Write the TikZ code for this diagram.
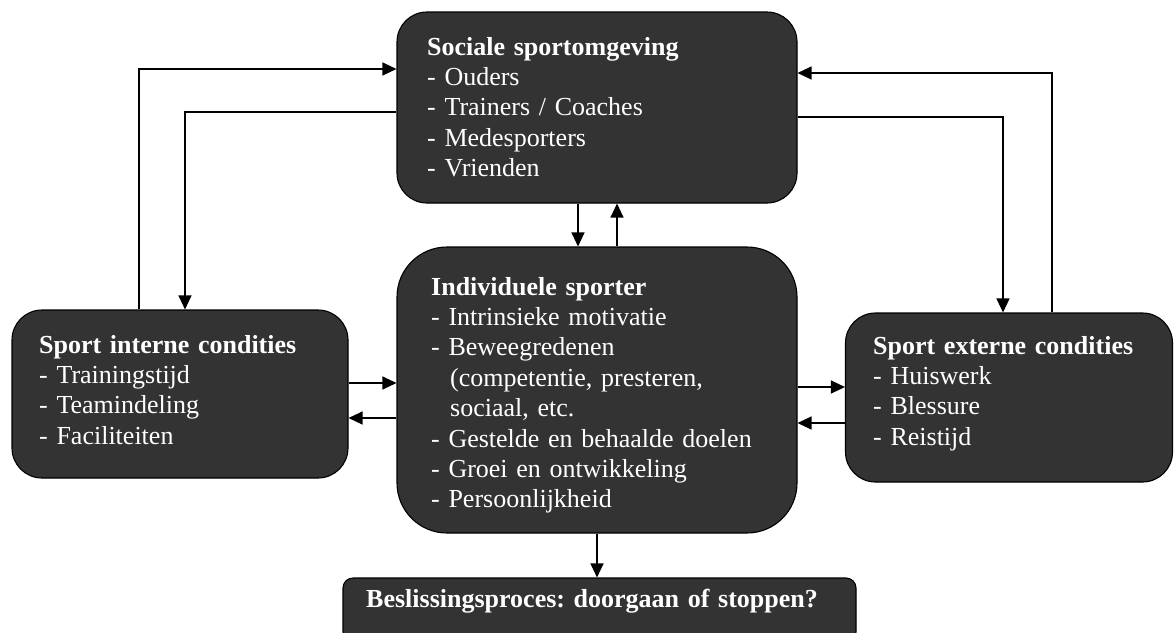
\documentclass[tikz,border=0pt]{standalone}
\usepackage{fontspec}
\setmainfont{Liberation Serif}
\usetikzlibrary{arrows.meta}
\definecolor{boxfill}{RGB}{51,51,51}
\frenchspacing
\tikzset{
  box/.style={draw=black, line width=1.1pt, fill=boxfill, inner sep=0pt},
  txt/.style={text=white, inner sep=0pt, anchor=base west, align=left,
    font=\fontsize{26}{30.4}\selectfont\frenchspacing},
  arr/.style={draw=black, line width=1.2pt, -{Triangle[length=14pt,width=13pt]}},
}
\begin{document}
\begin{tikzpicture}[x=1pt,y=-1pt]
\clip (0,0) rectangle (1174,632);
\fill[white] (0,0) rectangle (1174,632);
% boxes
\node[box, minimum width=400pt, minimum height=191pt, rounded corners=30pt] (soc) at (597,107.5) {};
\node[box, minimum width=400pt, minimum height=286pt, rounded corners=50pt] (ind) at (597,390) {};
\node[box, minimum width=336pt, minimum height=168pt, rounded corners=30pt] (int) at (180,394) {};
\node[box, minimum width=327pt, minimum height=169pt, rounded corners=30pt] (ext) at (1009,397.5) {};
\node[box, minimum width=513pt, minimum height=64pt, rounded corners=10pt] (bes) at (599.5,610) {};
% texts
\node[txt, text width=360pt] (soct) at (427,55) {\textbf{Sociale sportomgeving}\\- Ouders\\- Trainers / Coaches\\- Medesporters\\- Vrienden};
\node[txt, text width=360pt] (indt) at (431,295) {\textbf{Individuele sporter}\\- Intrinsieke motivatie\\- Beweegredenen\\\hspace*{19pt}(competentie, presteren,\\\hspace*{19pt}sociaal, etc.\\- Gestelde en behaalde doelen\\- Groei en ontwikkeling\\- Persoonlijkheid};
\node[txt, text width=300pt] (intt) at (39,353) {\textbf{Sport interne condities}\\- Trainingstijd\\- Teamindeling\\- Faciliteiten};
\node[txt, text width=295pt] (extt) at (873,354) {\textbf{Sport externe condities}\\- Huiswerk\\- Blessure\\- Reistijd};
\node[txt, text width=480pt] (best) at (366,607) {\textbf{Beslissingsproces: doorgaan of stoppen?}};
% helper coordinates
\coordinate (c1) at (139,69);
\coordinate (c2) at (185,112);
\coordinate (c3) at (1003,117);
\coordinate (c4) at (1052,73);
\coordinate (c5) at (578,0);
\coordinate (c6) at (617,0);
\coordinate (c7) at (0,383);
\coordinate (c8) at (0,418);
\coordinate (c9) at (0,387);
\coordinate (c10) at (0,423);
\coordinate (c11) at (597,0);
% connectors
\draw[arr] (int.north -| c1) |- (soc.west |- c1);
\draw[arr] (soc.west |- c2) -| (int.north -| c2);
\draw[arr] (soc.east |- c3) -| (ext.north -| c3);
\draw[arr] (ext.north -| c4) |- (soc.east |- c4);
\draw[arr] (soc.south -| c5) -- (ind.north -| c5);
\draw[arr] (ind.north -| c6) -- (soc.south -| c6);
\draw[arr] (int.east |- c7) -- (ind.west |- c7);
\draw[arr] (ind.west |- c8) -- (int.east |- c8);
\draw[arr] (ind.east |- c9) -- (ext.west |- c9);
\draw[arr] (ext.west |- c10) -- (ind.east |- c10);
\draw[arr] (ind.south -| c11) -- (bes.north -| c11);
\end{tikzpicture}
\end{document}
